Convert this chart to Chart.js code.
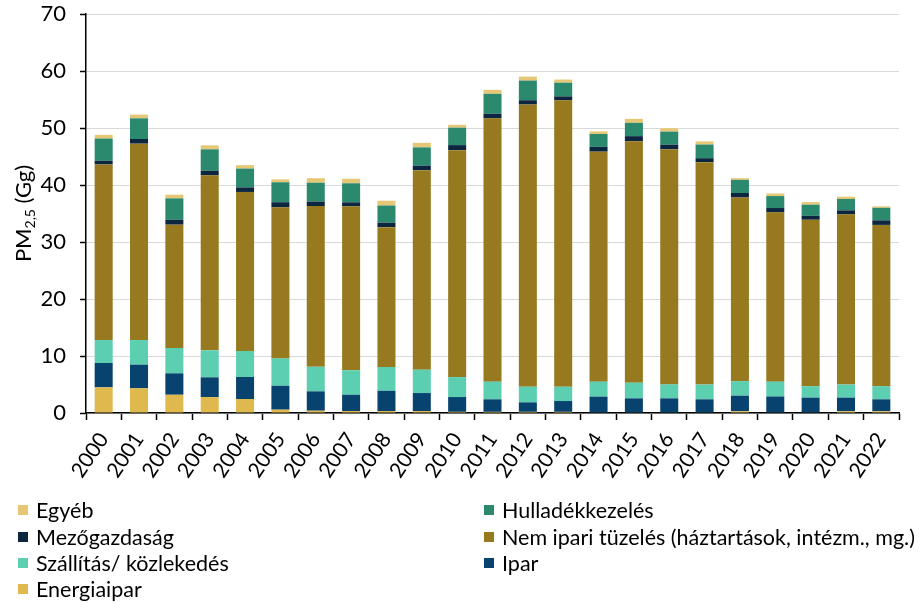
<!DOCTYPE html>
<html>
<head>
<meta charset="utf-8">
<script src="https://cdn.jsdelivr.net/npm/chart.js@4/dist/chart.umd.min.js"></script>
<style>
  html, body { margin: 0; padding: 0; background: #fff; }
  #wrap { width: 919px; height: 603px; }
</style>
</head>
<body>
<div id="wrap"><canvas id="c" width="919" height="603"></canvas></div>
<script>
const years = ["2000","2001","2002","2003","2004","2005","2006","2007","2008","2009","2010","2011","2012","2013","2014","2015","2016","2017","2018","2019","2020","2021","2022"];
const yTicks = [0, 10, 20, 30, 40, 50, 60, 70];

const energiaipar  = [4.5, 4.33, 3.2, 2.8, 2.46, 0.58, 0.4, 0.35, 0.35, 0.35, 0.2, 0.2, 0.2, 0.2, 0.1, 0.1, 0.1, 0.1, 0.3, 0.1, 0.1, 0.3, 0.3];
const ipar         = [4.27, 4.15, 3.76, 3.46, 3.86, 4.2, 3.4, 2.85, 3.55, 3.15, 2.6, 2.2, 1.67, 1.9, 2.77, 2.47, 2.47, 2.3, 2.74, 2.8, 2.6, 2.4, 2.1];
const szallitas    = [4.03, 4.32, 4.44, 4.74, 4.56, 4.8, 4.3, 4.3, 4.17, 4.1, 3.5, 3.1, 2.75, 2.5, 2.63, 2.75, 2.45, 2.6, 2.56, 2.6, 2.0, 2.3, 2.3];
const nemIpari     = [30.8, 34.45, 21.64, 30.7, 27.9, 26.5, 28.2, 28.76, 24.53, 35.0, 39.8, 46.2, 49.5, 50.25, 40.35, 42.35, 41.25, 39.0, 32.2, 29.7, 29.2, 29.85, 28.3];
const mezogazdasag = [0.65, 0.82, 0.86, 0.8, 0.8, 0.9, 0.8, 0.7, 0.8, 0.8, 0.9, 0.8, 0.75, 0.7, 0.85, 0.9, 0.8, 0.7, 0.8, 0.76, 0.7, 0.7, 0.8];
const hulladek     = [3.9, 3.63, 3.76, 3.76, 3.3, 3.5, 3.3, 3.34, 3.0, 3.2, 3.06, 3.5, 3.45, 2.4, 2.25, 2.34, 2.3, 2.4, 2.3, 2.1, 1.95, 2.0, 2.2];
const egyeb        = [0.65, 0.64, 0.64, 0.7, 0.6, 0.5, 0.8, 0.8, 0.85, 0.8, 0.5, 0.7, 0.7, 0.55, 0.45, 0.7, 0.6, 0.55, 0.3, 0.45, 0.45, 0.4, 0.25];

const seriesNames = ["Energiaipar", "Ipar", "Szállítás/ közlekedés", "Nem ipari tüzelés (háztartások, intézm., mg.)", "Mezőgazdaság", "Hulladékkezelés", "Egyéb"];
const seriesData = [energiaipar, ipar, szallitas, nemIpari, mezogazdasag, hulladek, egyeb];
const seriesColors = ["#dfb94e", "#08436f", "#5ccfb1", "#977a1f", "#0c2640", "#2b8a6e", "#e6c775"];

const FONT = "Lato, 'Open Sans', sans-serif";

const yTitlePlugin = {
  id: 'yTitle',
  afterDraw(chart) {
    const ctx = chart.ctx;
    const ca = chart.chartArea;
    const cy = (ca.top + ca.bottom) / 2;
    const big = "22px " + FONT, small = "14px " + FONT;
    ctx.save();
    ctx.font = big; const w1 = ctx.measureText("PM").width;
    ctx.font = small; const w2 = ctx.measureText("2,5").width;
    ctx.font = big; const w3 = ctx.measureText(" (Gg)").width;
    const total = w1 + w2 + w3;
    ctx.translate(31, cy);
    ctx.rotate(-Math.PI / 2);
    ctx.fillStyle = "#000";
    ctx.textBaseline = "alphabetic";
    ctx.textAlign = "left";
    let x = -total / 2;
    ctx.font = big; ctx.fillText("PM", x, 0); x += w1;
    ctx.font = small; ctx.fillText("2,5", x, 4); x += w2;
    ctx.font = big; ctx.fillText(" (Gg)", x, 0);
    ctx.restore();
  }
};

const legendPlugin = {
  id: 'gridLegend',
  afterDraw(chart) {
    const ctx = chart.ctx;
    const ds = chart.data.datasets.slice().reverse();
    const colX = [18, 484];
    const rowY = [510, 537, 563, 589];
    ctx.save();
    ctx.font = "21.5px " + FONT;
    ctx.textBaseline = "middle";
    ctx.textAlign = "left";
    ds.forEach((d, i) => {
      const col = i % 2, row = Math.floor(i / 2);
      const x = colX[col], y = rowY[row];
      ctx.fillStyle = d.backgroundColor;
      ctx.fillRect(x, y - 5, 10, 10);
      ctx.fillStyle = "#000";
      ctx.fillText(d.label, x + 18, y + 1);
    });
    ctx.restore();
  }
};

new Chart(document.getElementById('c'), {
  type: 'bar',
  data: {
    labels: years,
    datasets: seriesNames.map((n, i) => ({
      label: n,
      data: seriesData[i],
      backgroundColor: seriesColors[i],
      borderWidth: 0,
      categoryPercentage: 1,
      barPercentage: 0.51
    }))
  },
  options: {
    responsive: false,
    animation: false,
    devicePixelRatio: 1,
    layout: { padding: { left: 0, right: 20, top: 14, bottom: 110 } },
    plugins: {
      legend: { display: false },
      tooltip: { enabled: false },
      title: { display: false }
    },
    scales: {
      x: {
        stacked: true,
        grid: { display: true, offset: true, drawOnChartArea: false, drawTicks: true, tickLength: 7, tickColor: "#000", tickWidth: 1.5 },
        border: { display: true, color: "#000", width: 1.5 },
        ticks: { color: "#000", font: { family: FONT, size: 21 }, minRotation: 56, maxRotation: 56, padding: 8, autoSkip: false },
        afterFit(scale) { scale.height = 80; scale.paddingLeft = 0; scale.paddingRight = 0; }
      },
      y: {
        stacked: true,
        min: 0, max: 70,
        afterBuildTicks(scale) { scale.ticks = yTicks.map(v => ({ value: v })); },
        grid: { color: "#d9d9d9", lineWidth: 1, drawTicks: true, tickLength: 6, tickColor: "#000", tickWidth: 1.5 },
        border: { display: true, color: "#000", width: 1.5 },
        ticks: { color: "#000", font: { family: FONT, size: 22 }, padding: 14 },
        afterFit(scale) { scale.width = 86; scale.paddingTop = 0; scale.paddingBottom = 0; }
      }
    }
  },
  plugins: [yTitlePlugin, legendPlugin]
});
</script>
</body>
</html>
